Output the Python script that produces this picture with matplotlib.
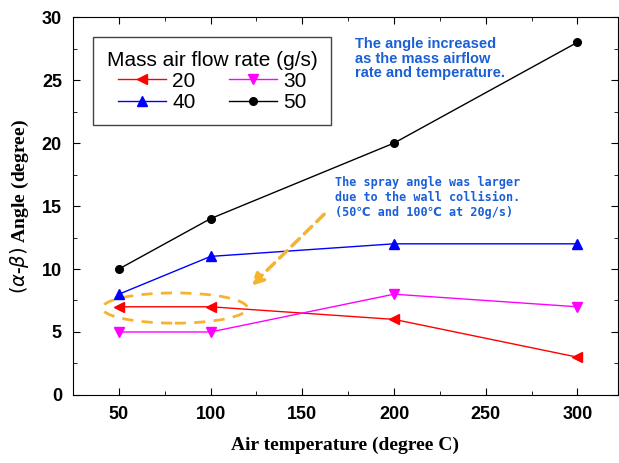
import matplotlib.pyplot as plt
from matplotlib.patches import Ellipse
from matplotlib.ticker import MultipleLocator

temps = [50, 100, 200, 300]
flow_labels = ['20', '30', '40', '50']
angle_20 = [7, 7, 6, 3]
angle_30 = [5, 5, 8, 7]
angle_40 = [8, 11, 12, 12]
angle_50 = [10, 14, 20, 28]

fig = plt.figure(figsize=(6.19, 4.63), dpi=100)
ax = fig.add_axes([0.118, 0.147, 0.880, 0.816])

l20, = ax.plot(temps, angle_20, color='red', marker='<', ms=7, lw=1, label=flow_labels[0])
l30, = ax.plot(temps, angle_30, color='magenta', marker='v', ms=7, lw=1, label=flow_labels[1])
l40, = ax.plot(temps, angle_40, color='blue', marker='^', ms=7, lw=1, label=flow_labels[2])
l50, = ax.plot(temps, angle_50, color='black', marker='o', ms=5.5, lw=1, label=flow_labels[3])

ax.set_xlim(25, 322)
ax.set_ylim(0, 30)
ax.set_xticks([50, 100, 150, 200, 250, 300])
ax.set_yticks([0, 5, 10, 15, 20, 25, 30])
ax.xaxis.set_minor_locator(MultipleLocator(25))
ax.yaxis.set_minor_locator(MultipleLocator(2.5))
ax.tick_params(which='both', direction='in', top=True, right=True)
ax.tick_params(which='major', length=5, labelsize=13, pad=8)
ax.tick_params(which='minor', length=3)
for lab in ax.get_xticklabels() + ax.get_yticklabels():
    lab.set_fontweight('bold')
    lab.set_family('Liberation Sans')

ax.set_xlabel('Air temperature (degree C)', family='Liberation Serif',
              fontweight='bold', fontsize=14, labelpad=10)
ax.set_ylabel(r'$(\alpha$-$\beta)$ Angle (degree)', family='Liberation Serif',
              fontweight='bold', fontsize=14, labelpad=8)

# fill order so rows read 20,30 / 40,50
leg = ax.legend([l20, l40, l30, l50], ['20', '40', '30', '50'],
                title='Mass air flow rate (g/s)', ncol=2, loc='upper left',
                bbox_to_anchor=(0.037, 0.947), borderaxespad=0,
                fancybox=False, framealpha=1,
                edgecolor='#444444', prop={'family': 'Liberation Sans', 'size': 15},
                handlelength=2.3, columnspacing=1.6, labelspacing=0.1,
                handletextpad=0.3, borderpad=0.65)
leg.get_title().set_fontsize(15)
leg.get_title().set_family('Liberation Sans')

ax.text(179, 28.4, 'The angle increased\nas the mass airflow\nrate and temperature.',
        color='#1a5fd6', fontsize=10.5, fontweight='bold', va='top', ha='left',
        family='Liberation Sans', linespacing=1.05)
ax.text(168, 17.4, 'The spray angle was larger\ndue to the wall collision.\n(50\u2103 and 100\u2103 at 20g/s)',
        color='#1a5fd6', fontsize=8.5, fontweight='bold', va='top', ha='left',
        family=['DejaVu Sans Mono', 'DejaVu Sans'], linespacing=1.2)

ax.add_patch(Ellipse((80.5, 6.9), 79, 2.4, fill=False, ec='#f5b330',
                     lw=2, ls=(0, (4, 3))))
ax.annotate('', xy=(121, 8.5), xytext=(163, 14.5),
            arrowprops=dict(arrowstyle='-|>', color='#f5b330', lw=2.5,
                            ls=(0, (3, 2)), mutation_scale=18))

fig.savefig('out.png', dpi=100)
